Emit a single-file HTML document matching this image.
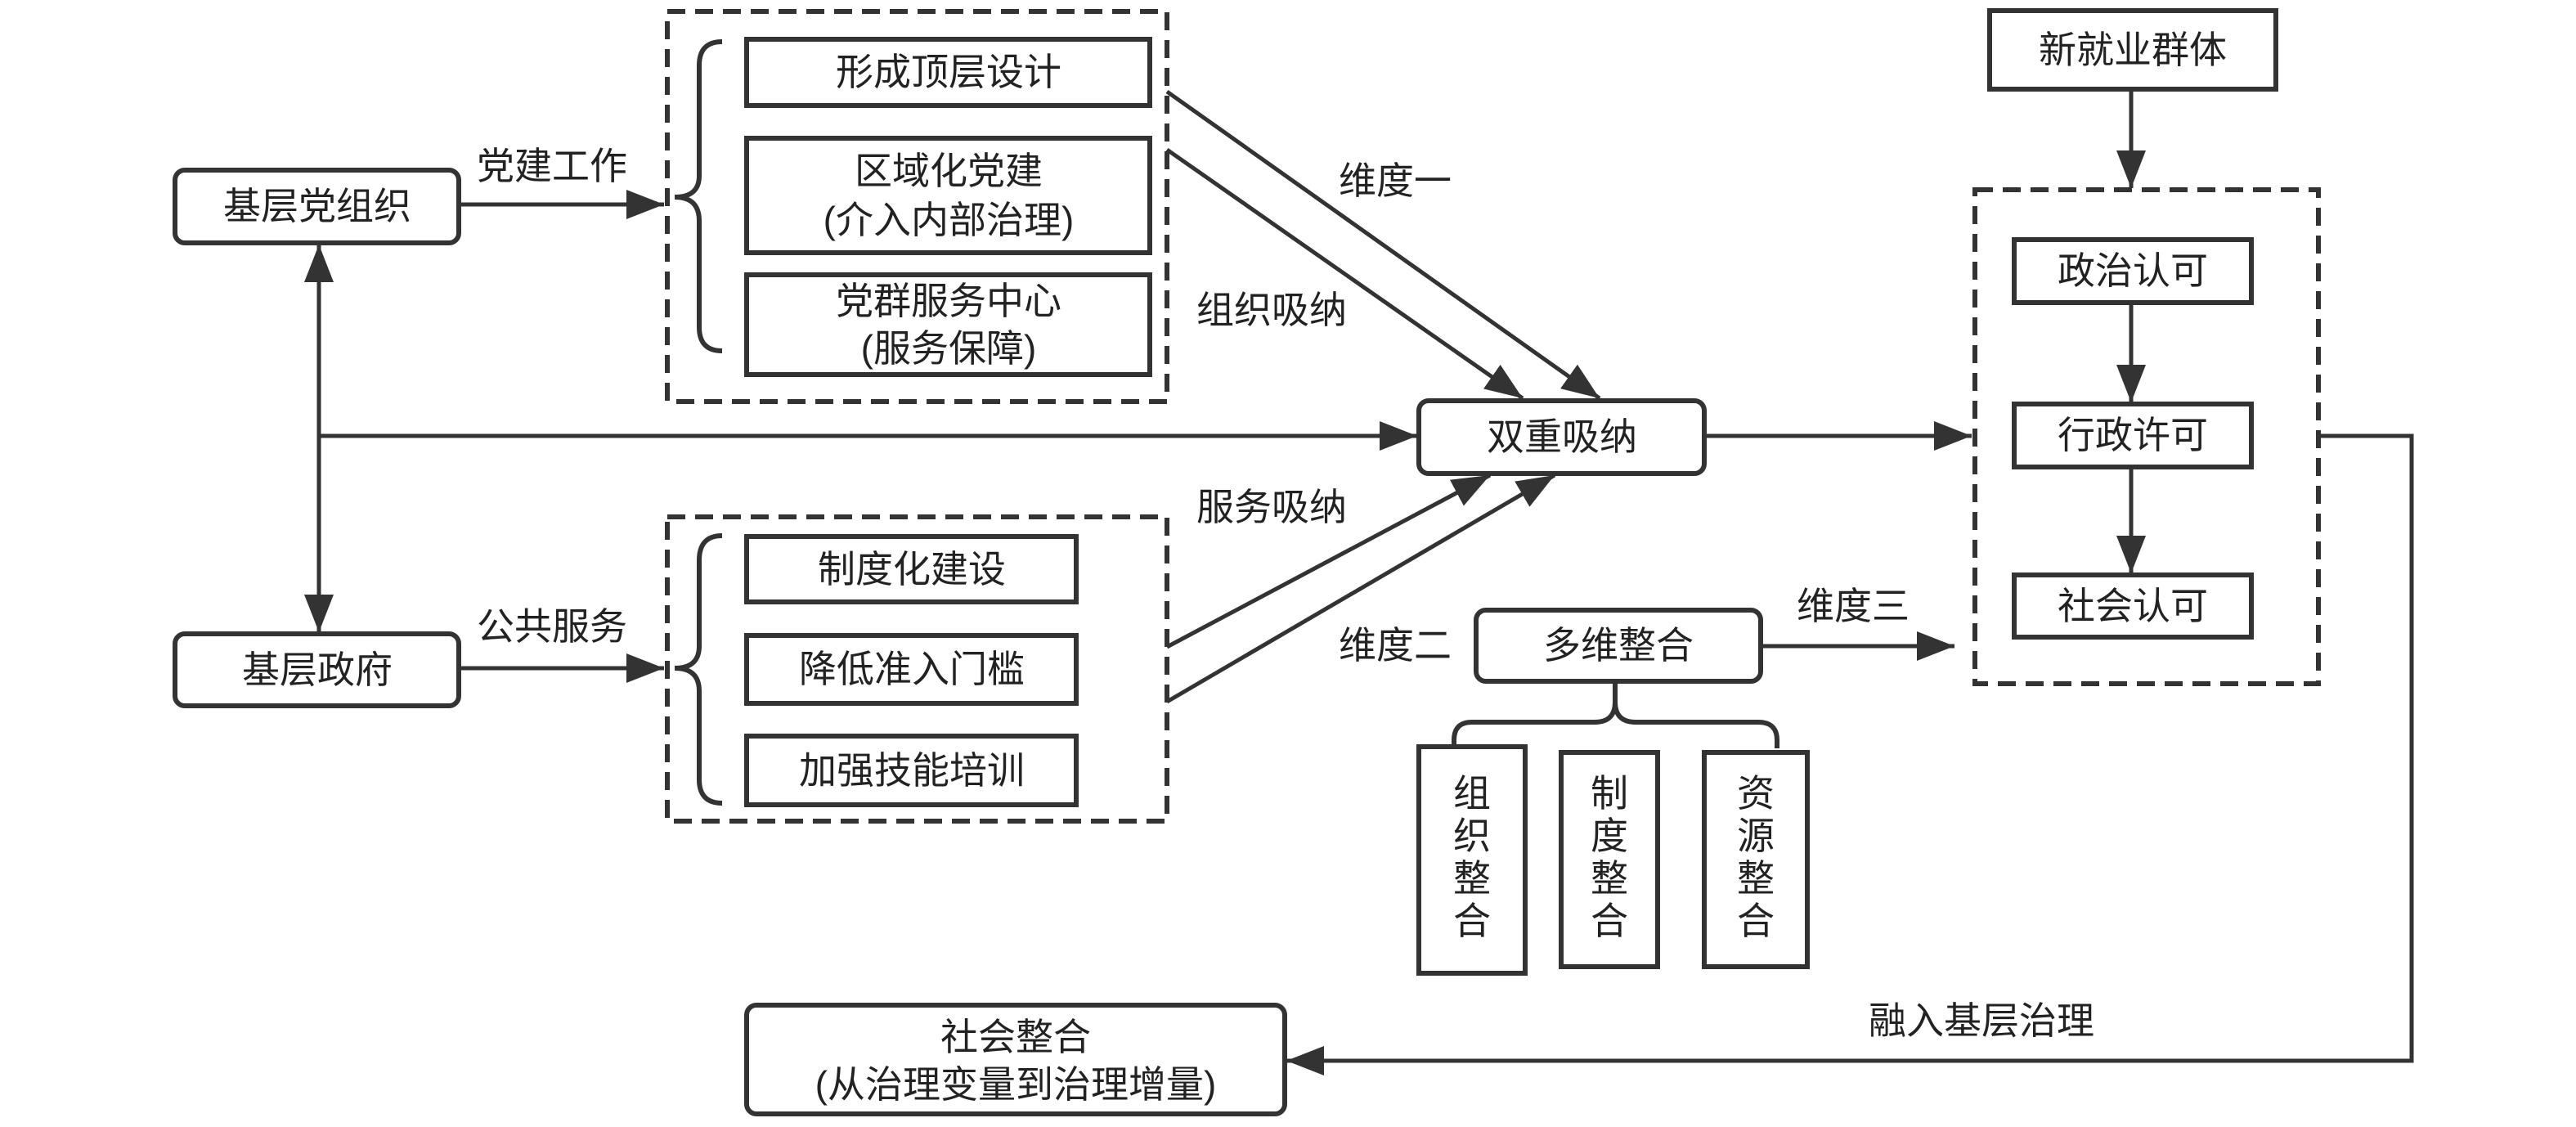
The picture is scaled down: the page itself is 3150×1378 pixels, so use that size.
<!DOCTYPE html>
<html><head><meta charset="utf-8"><style>
html,body{margin:0;padding:0;background:#fff;}
svg{display:block;}
text{font-family:"Liberation Sans","Noto Sans CJK SC",sans-serif;font-size:46px;fill:#222;}
</style></head><body>
<svg width="3150" height="1378" viewBox="0 0 3150 1378" xmlns="http://www.w3.org/2000/svg">
<defs>
<marker id="a" markerUnits="userSpaceOnUse" markerWidth="50" markerHeight="36" refX="46" refY="18" orient="auto">
<path d="M0,0 L46,18 L0,36 Z" fill="#333"/>
</marker>
</defs>
<g stroke="#333" stroke-width="6" fill="none">
<!-- left boxes -->
<rect x="214" y="208" width="347" height="89" rx="12"/>
<rect x="214" y="775" width="347" height="88" rx="12"/>
<!-- dashed boxes -->
<rect x="816" y="14" width="611" height="477" stroke-dasharray="22,12"/>
<rect x="816" y="632" width="611" height="372" stroke-dasharray="22,12"/>
<rect x="2415" y="232" width="420" height="604" stroke-dasharray="22,12"/>
<!-- inner boxes top -->
<rect x="913" y="48" width="493" height="81"/>
<rect x="913" y="169" width="493" height="140"/>
<rect x="913" y="336" width="493" height="122"/>
<!-- inner boxes bottom -->
<rect x="913" y="656" width="403" height="80"/>
<rect x="913" y="777" width="403" height="83"/>
<rect x="913" y="900" width="403" height="84"/>
<!-- braces -->
<path d="M883,51 Q855,51 855,80 L855,215 Q855,241 825,241 Q855,241 855,270 L855,400 Q855,429 883,429"/>
<path d="M883,655 Q855,655 855,685 L855,790 Q855,817 825,817 Q855,817 855,845 L855,953 Q855,982 883,982"/>
<!-- center boxes -->
<rect x="1735" y="490" width="349" height="89" rx="12"/>
<rect x="1805" y="746" width="348" height="87" rx="12"/>
<!-- right -->
<rect x="2433" y="13" width="350" height="96"/>
<rect x="2463" y="293" width="290" height="77"/>
<rect x="2463" y="494" width="290" height="77"/>
<rect x="2463" y="703" width="290" height="76"/>
<!-- vertical boxes -->
<rect x="1735" y="913" width="130" height="277"/>
<rect x="1909" y="920" width="118" height="262"/>
<rect x="2084" y="920" width="126" height="262"/>
<!-- bottom box -->
<rect x="913" y="1229" width="658" height="133" rx="12"/>
<!-- brace under 多维整合 -->
<path d="M1975,833 L1975,858 Q1975,883 1950,883 L1800,883 Q1778,883 1778,905 L1778,915"/>
<path d="M1975,858 Q1975,883 2000,883 L2150,883 Q2173,883 2173,905 L2173,915"/>
</g>
<g stroke="#333" stroke-width="5" fill="none" marker-end="url(#a)">
<line x1="561" y1="250" x2="812" y2="250"/>
<line x1="561" y1="817" x2="812" y2="817"/>
<line x1="390" y1="533" x2="1733" y2="533"/>
<line x1="390" y1="533" x2="390" y2="299"/>
<line x1="390" y1="533" x2="390" y2="773"/>
<line x1="1427" y1="112" x2="1956" y2="487"/>
<line x1="1427" y1="183" x2="1862" y2="487"/>
<line x1="1427" y1="791" x2="1822" y2="581"/>
<line x1="1427" y1="858" x2="1901" y2="581"/>
<line x1="2084" y1="533" x2="2411" y2="533"/>
<line x1="2153" y1="790" x2="2390" y2="790"/>
<line x1="2606" y1="109" x2="2606" y2="230"/>
<line x1="2606" y1="370" x2="2606" y2="492"/>
<line x1="2606" y1="571" x2="2606" y2="701"/>
<path d="M2835,533 L2949,533 L2949,1297 L1573,1297"/>
</g>
<g text-anchor="middle" dominant-baseline="central">
<text x="388" y="252">基层党组织</text>
<text x="388" y="819">基层政府</text>
<text x="675" y="203">党建工作</text>
<text x="675" y="766">公共服务</text>
<text x="1160" y="88">形成顶层设计</text>
<text x="1160" y="209">区域化党建</text>
<text x="1160" y="269">(介入内部治理)</text>
<text x="1160" y="368">党群服务中心</text>
<text x="1160" y="426">(服务保障)</text>
<text x="1115" y="696">制度化建设</text>
<text x="1115" y="818">降低准入门槛</text>
<text x="1115" y="942">加强技能培训</text>
<text x="1555" y="379">组织吸纳</text>
<text x="1555" y="620">服务吸纳</text>
<text x="1706" y="221">维度一</text>
<text x="1706" y="789">维度二</text>
<text x="2266" y="741">维度三</text>
<text x="1910" y="534">双重吸纳</text>
<text x="1979" y="789">多维整合</text>
<text x="2608" y="61">新就业群体</text>
<text x="2608" y="331">政治认可</text>
<text x="2608" y="532">行政许可</text>
<text x="2608" y="741">社会认可</text>
<text x="1800" y="970">组</text><text x="1800" y="1022">织</text><text x="1800" y="1074">整</text><text x="1800" y="1126">合</text>
<text x="1968" y="970">制</text><text x="1968" y="1022">度</text><text x="1968" y="1074">整</text><text x="1968" y="1126">合</text>
<text x="2147" y="970">资</text><text x="2147" y="1022">源</text><text x="2147" y="1074">整</text><text x="2147" y="1126">合</text>
<text x="2423" y="1248">融入基层治理</text>
<text x="1242" y="1268">社会整合</text>
<text x="1242" y="1326">(从治理变量到治理增量)</text>
</g>
</svg>
</body></html>
